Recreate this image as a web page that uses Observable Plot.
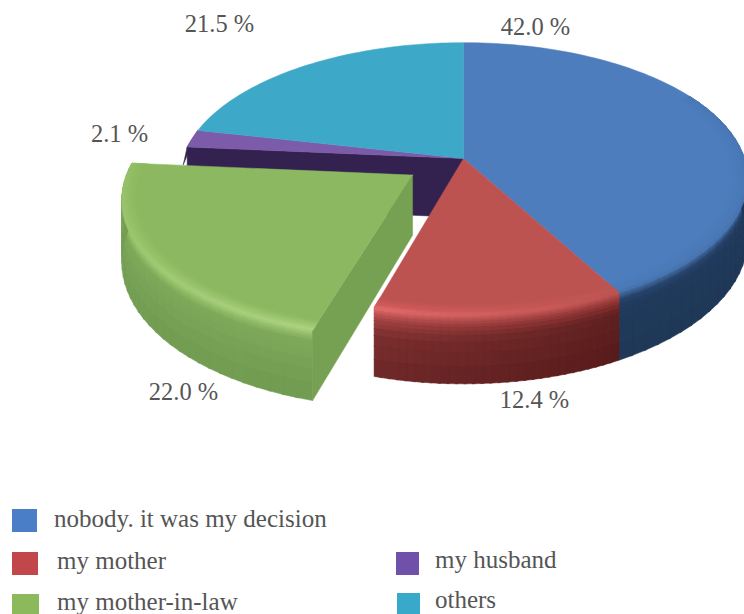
<!DOCTYPE html>
<html><head><meta charset="utf-8">
<style>
html,body{margin:0;padding:0;background:#fff;overflow:hidden}
#wrap{position:relative;width:744px;height:614px;overflow:hidden}
#wrap svg{display:block;position:absolute;left:0;top:0}
.sw{position:absolute}
.lb{position:absolute;font-family:"Liberation Serif",serif;font-size:25px;color:#555;white-space:nowrap;line-height:24px}
</style>
<script src="https://cdn.jsdelivr.net/npm/d3@7"></script>
<script src="https://cdn.jsdelivr.net/npm/@observablehq/plot@0.6"></script>
</head><body><div id="wrap"></div>
<script>
// data
const categories = ["nobody. it was my decision","my mother","my mother-in-law","my husband","others"];
const shares = [42.0,12.4,22.0,2.1,21.5];
const topColors = ["#4d7dbd","#bd5351","#8bb860","#7d5bab","#3ea8c8"];
const swatchColors = ["#4a7ec6","#c2474a","#8cb95c","#6f51a9","#38a9c8"];
// layout
const labelX = [535,534,183,119,219];
const labelY = [27,400,392,134,24];
const legendSwatch = [[12,509,25,23],[12,552,26,23],[12,594,27,20],[396,552,23,23],[397,593,23,21]];
const legendText = [[54,507],[57,549],[57,590],[435,548],[435,588]];
// projection of the pie disc: perspective with the far side shrunk
const cx=463, cy=158, R=281, S=133, k=0.148, H=59;
const rad=d=>d*Math.PI/180;
let acc=0;
const slices=shares.map((v,i)=>{const a0=acc*3.6; acc+=v; return {i,v,a0,a1:acc*3.6};});
const explodeAt=(slices[2].a0+slices[2].a1)/2, explodeBy=0.216;
const noOff={u:0,v:0}, greenOff={u:explodeBy*Math.sin(rad(explodeAt)),v:explodeBy*Math.cos(rad(explodeAt))};
function P(deg,r,z,off=noOff){
  const u=off.u+r*Math.sin(rad(deg)), v=off.v+r*Math.cos(rad(deg)), w=1+k*v;
  return [cx+R*u/w, cy+(-S*v+H*z)/w];
}
const surf=(deg,t,off)=>t<0?P(deg,1+t*0.35,0,off):P(deg,1,t,off);
const rows=[]; let pid=0;
function poly(pts,c){const id=pid++; [...pts,pts[0]].forEach(([X,Y])=>rows.push({id,c,X,Y}));}
const ramp=stops=>d3.scaleLinear().domain(stops.map(s=>s[0])).range(stops.map(s=>s[1])).interpolate(d3.interpolateRgb);
const ts=[-.16,-.12,-.09,-.06,-.04,-.02,0,.02,.04,.07,.1,.14,.18,.24,.3,.4,.55,.75,1];
function strips(a0,a1,rA,rB,off,neg){
  const n=30;
  for(let j=0;j<ts.length-1;j++){
    if((ts[j]<0)!==neg) continue;
    const t0=ts[j], t1=neg?Math.min(ts[j+1]+.01,0):Math.min(ts[j+1]+.012,1), tm=(ts[j]+ts[j+1])/2;
    for(let q=0;q<n;q++){
      const b0=a0+(a1-a0)*q/n, b1=Math.min(a0+(a1-a0)*(q+1)/n+.5,a1), m=(q+.5)/n;
      poly([surf(b0,t0,off),surf(b1,t0,off),surf(b1,t1,off),surf(b0,t1,off)],
        d3.interpolateRgb(rA(tm),rB(tm))(m));
    }
  }
}
function topFace(a0,a1,c,off){
  const pts=[P(0,0,0,off)]; for(let a=a0;a<a1;a+=1.5) pts.push(P(a,1,0,off));
  pts.push(P(a1,1,0,off)); poly(pts,c);
}
const [sBlue,sRed,sGreen,sPurple,sTeal]=slices;
const blueA=ramp([[-.16,"#4d7dbd"],[0,"#4a78b6"],[.06,"#30527f"],[.2,"#213a5c"],[1,"#1f3857"]]);
const blueB=ramp([[-.16,"#4d7dbd"],[-.03,"#4b79b7"],[.05,"#3a6090"],[.12,"#27426a"],[.25,"#203a5c"],[1,"#1f3857"]]);
const redA=ramp([[-.16,"#bd5351"],[-.06,"#bf5553"],[.02,"#ba5150"],[.14,"#8a3232"],[.3,"#602020"],[1,"#561a1a"]]);
const redB=ramp([[-.16,"#bd5351"],[-.05,"#d05c5a"],[.01,"#e86e6e"],[.07,"#c85a5a"],[.18,"#a04242"],[.4,"#7c2e2e"],[1,"#6d2828"]]);
const greenB=ramp([[-.16,"#8bb860"],[-.06,"#8fbc62"],[.0,"#92c066"],[.08,"#8dbb60"],[.2,"#7ea85a"],[1,"#739d53"]]);
const greenA=ramp([[-.16,"#8bb860"],[-.05,"#a2cb76"],[.0,"#b0d486"],[.06,"#96c06b"],[.16,"#7ea95a"],[1,"#6f9a50"]]);
// back walls and outer sides
poly([P(0,0,0),P(sPurple.a0,1,0),P(sPurple.a0,1,1),P(0,0,1)],"#33224f");
strips(60,sBlue.a1,blueA,blueB,noOff,false);
strips(sRed.a0,sRed.a1,redA,redB,noOff,false);
poly([P(sPurple.a0,1,0),P(sTeal.a0,1,0),[P(sPurple.a0,1,1)[0]-4,P(sPurple.a0,1,0)[1]+18]],"#33224f");
// top faces
topFace(sBlue.a0,sBlue.a1,topColors[0]);
topFace(sRed.a0,sRed.a1,topColors[1]);
topFace(sPurple.a0,sPurple.a1,topColors[3]);
topFace(sTeal.a0,sTeal.a1,topColors[4]);
strips(60,sBlue.a1,blueA,blueB,noOff,true);
strips(sRed.a0,sRed.a1,redA,redB,noOff,true);
// exploded slice
strips(sGreen.a0,sGreen.a1,greenA,greenB,greenOff,false);
poly([P(0,0,0,greenOff),P(sGreen.a0,1,0,greenOff),P(sGreen.a0,1,1,greenOff),P(0,0,1,greenOff)],"#76a052");
topFace(sGreen.a0,sGreen.a1,topColors[2],greenOff);
strips(sGreen.a0,sGreen.a1,greenA,greenB,greenOff,true);

const labels=slices.map(s=>({t:s.v.toFixed(1)+" %",x:labelX[s.i],y:labelY[s.i]}));
const chart=Plot.plot({
  width:744,height:490,margin:0,
  x:{domain:[0,744],range:[0,744],axis:null},
  y:{domain:[0,490],range:[0,490],axis:null},
  color:{type:"identity"},
  style:{background:"transparent"},
  marks:[
    Plot.line(rows,{x:"X",y:"Y",z:"id",fill:"c",stroke:"c",strokeWidth:0.5}),
    Plot.rect([{x1:145,x2:234,y1:380,y2:406}],{x1:"x1",x2:"x2",y1:"y1",y2:"y2",fill:"white"}),
    Plot.text(labels,{x:"x",y:"y",text:"t",fontFamily:"'Liberation Serif',serif",fontSize:24.5,fill:"#555"})
  ]
});
const wrap=document.getElementById("wrap");
wrap.appendChild(chart);
categories.forEach((c,i)=>{
  const [l,t,w,h]=legendSwatch[i];
  const s=document.createElement("div"); s.className="sw";
  s.style.cssText=`left:${l}px;top:${t}px;width:${w}px;height:${h}px;background:${swatchColors[i]}`;
  wrap.appendChild(s);
  const b=document.createElement("div"); b.className="lb"; b.textContent=c;
  b.style.left=legendText[i][0]+"px"; b.style.top=legendText[i][1]+"px";
  wrap.appendChild(b);
});
</script></body></html>
